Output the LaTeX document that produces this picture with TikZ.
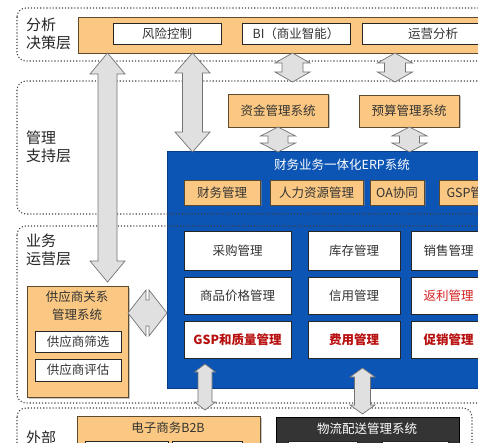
\documentclass[tikz,border=0pt]{standalone}
\usepackage{fontspec}
\setmainfont{Noto Sans CJK SC}
\usetikzlibrary{shadows,calc}
\definecolor{org}{HTML}{FAC882}
\definecolor{orgdraw}{HTML}{5E4B2E}
\definecolor{erpblue}{HTML}{0C55B5}
\definecolor{erpdraw}{HTML}{083C86}
\definecolor{txtred}{HTML}{D42020}
\definecolor{darkred}{HTML}{B80F0F}
\definecolor{logi}{HTML}{343434}
\tikzset{
 layer/.style={draw=black!75, dotted, line width=1.1pt, rounded corners=9pt},
 base/.style={inner sep=0pt, outer sep=0pt, font=\fontsize{12.5}{14}\selectfont, text=black!80},
 obox/.style={base, fill=org, draw=orgdraw, line width=0.8pt, drop shadow={shadow xshift=1.5pt, shadow yshift=-1.5pt, fill=black!45}},
 wbox/.style={base, fill=white, draw=black!85, line width=0.8pt},
 erpbox/.style={base, fill=erpblue, draw=erpdraw, line width=1pt},
 lgbox/.style={base, fill=logi, draw=black, line width=0.8pt, text=white},
 blockarrow/.style={draw=black!55, fill=black!12, line width=0.7pt, line join=miter},
 lbl/.style={inner sep=0pt, font=\fontsize{15}{17.5}\selectfont, text=black!85, align=left, anchor=west},
 redt/.style={text=txtred},
 boldred/.style={text=darkred, font=\fontsize{12.5}{14}\selectfont\bfseries},
}
\newcommand\bx[7]{\node[#2, minimum width={(#5-#3)*1pt}, minimum height={(#6-#4)*1pt}] (#1) at ({(#3+#5)/2},{(#4+#6)/2}) {#7};}
\newcommand\vdarrow[6]{%
 \path[blockarrow] let \p1=(#2), \p2=(#3) in
 (#1pt,\y1) -- ({#1pt+#5pt},{\y1-#6pt}) -- ({#1pt+#4pt},{\y1-#6pt}) -- ({#1pt+#4pt},{\y2+#6pt}) -- ({#1pt+#5pt},{\y2+#6pt}) -- (#1pt,\y2) -- ({#1pt-#5pt},{\y2+#6pt}) -- ({#1pt-#4pt},{\y2+#6pt}) -- ({#1pt-#4pt},{\y1-#6pt}) -- ({#1pt-#5pt},{\y1-#6pt}) -- cycle;}
\newcommand\hdarrow[6]{%
 \path[blockarrow] let \p1=(#2), \p2=(#3) in
 (\x1,-#1pt) -- ({\x1+#6pt},{-#1pt+#5pt}) -- ({\x1+#6pt},{-#1pt+#4pt}) -- ({\x2-#6pt},{-#1pt+#4pt}) -- ({\x2-#6pt},{-#1pt+#5pt}) -- (\x2,-#1pt) -- ({\x2-#6pt},{-#1pt-#5pt}) -- ({\x2-#6pt},{-#1pt-#4pt}) -- ({\x1+#6pt},{-#1pt-#4pt}) -- ({\x1+#6pt},{-#1pt-#5pt}) -- cycle;}
\begin{document}
\begin{tikzpicture}[x=1pt,y=-1pt]
\useasboundingbox (0,0) rectangle (478,443);
\fill[white] (0,0) rectangle (478,443);
\clip (0,0) rectangle (478,443);

% ERP box (under the layer lines)
\bx{erp}{erpbox}{167}{152}{500}{388}{}
\node[base, text=white] (erptitle) at (342,165) {财务业务一体化ERP系统};

% layers
\draw[layer] (17,8) rectangle (495,61);
\draw[layer] (17,81) rectangle (495,214);
\draw[layer] (17,226) rectangle (495,403);
\draw[layer] (17,408) rectangle (472,470);
\coordinate (l2top) at (0,82);

\node[lbl] (lab1) at (26,34) {分析\\决策层};
\node[lbl] (lab2) at (26,147) {管理\\支持层};
\node[lbl] (lab3) at (26,250) {业务\\运营层};
\node[lbl] (lab4) at (26,438) {外部};

% decision layer
\bx{bar}{obox}{78}{17}{500}{53}{}
\bx{fx}{wbox}{113}{23}{221}{44}{风险控制}
\bx{bi}{wbox}{242}{23}{350}{44}{BI（商业智能）}
\bx{yy}{wbox}{362}{23}{504}{44}{运营分析}

% support layer
\bx{zj}{obox}{228}{94}{328}{127}{资金管理系统}
\bx{ys}{obox}{359}{95}{459}{127}{预算管理系统}

% ERP modules
\bx{cw}{obox}{184}{180}{260}{205}{财务管理}
\bx{rl}{obox}{270}{180}{363}{205}{人力资源管理}
\bx{oa}{obox}{370}{180}{424}{205}{OA协同}
\bx{gspm}{obox}{439}{180}{503}{205}{GSP管理}

\bx{cg}{wbox}{184}{231}{291}{270}{采购管理}
\bx{kc}{wbox}{308}{231}{400}{270}{库存管理}
\bx{xs}{wbox}{411}{231}{486}{270}{销售管理}
\bx{jg}{wbox}{184}{277}{291}{314}{商品价格管理}
\bx{xy}{wbox}{308}{277}{400}{314}{信用管理}
\bx{fl}{wbox,redt}{411}{277}{486}{314}{返利管理}
\bx{gsp}{wbox,boldred}{184}{321}{291}{358}{GSP和质量管理}
\bx{fy}{wbox,boldred}{308}{321}{400}{358}{费用管理}
\bx{cx}{wbox,boldred}{411}{321}{486}{358}{促销管理}

% supplier
\bx{sup}{obox}{27}{286}{128}{397}{}
\node[base, align=center, font=\fontsize{12.5}{18}\selectfont] (suptitle) at (77,306) {供应商关系\\管理系统};
\bx{sx}{wbox}{35}{331}{121}{352}{供应商筛选}
\bx{pg}{wbox}{35}{359}{121}{381}{供应商评估}

% external
\bx{b2b}{obox}{77}{416}{260}{475}{}
\node[base] (b2bt) at (168,428) {电子商务B2B};
\bx{b2ba}{wbox}{85}{441}{168}{470}{}
\bx{b2bb}{wbox}{172}{441}{242}{470}{}
\bx{logi}{lgbox}{276}{417}{459}{475}{}
\node[base, text=white] (logit) at (367,429) {物流配送管理系统};
\bx{lga}{wbox}{288}{441}{357}{470}{}
\bx{lgb}{wbox}{382}{441}{448}{470}{}

% block arrows
\vdarrow{107.5}{bar.south}{[yshift=4pt]sup.north}{9.5}{17.5}{21}
\vdarrow{192.5}{bar.south}{erp.north}{10}{17.5}{20}
\vdarrow{292.5}{bar.south}{l2top}{10.5}{17.5}{10}
\vdarrow{395}{bar.south}{l2top}{10.5}{17.5}{10}
\vdarrow{278}{zj.south}{erp.north}{10}{17.5}{9}
\vdarrow{409.5}{ys.south}{erp.north}{10}{17.5}{9}
\hdarrow{313}{sup.east}{erp.west}{13}{23}{18}
\vdarrow{205}{[yshift=-6pt]gsp.south}{[yshift=6pt]b2b.north}{7}{10.5}{8}
\vdarrow{362.5}{[yshift=-10pt]fy.south}{[yshift=3pt]logi.north}{8}{12.5}{9}
\end{tikzpicture}
\end{document}
